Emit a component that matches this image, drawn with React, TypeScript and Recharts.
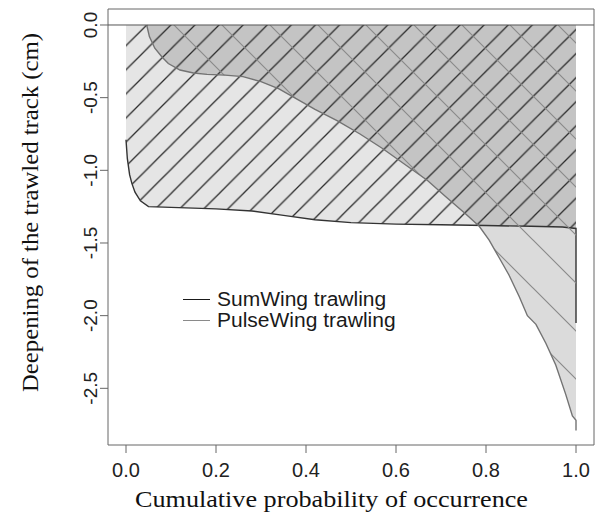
import {
  ComposedChart,
  Area,
  XAxis,
  YAxis,
  ReferenceLine,
  ReferenceArea,
  Legend,
} from "recharts";

// cumulative probability (x) and deepening in cm (y)
const SUM_PROB = [
  0, 0.003, 0.008, 0.013, 0.02, 0.032, 0.05, 0.1, 0.2, 0.28, 0.35, 0.42, 0.5,
  0.6, 0.7, 0.8, 0.9, 0.97, 1.0, 1.0,
];
const SUM_DEPTH = [
  -0.79, -0.92, -1.03, -1.09, -1.15, -1.21, -1.25, -1.255, -1.265, -1.28,
  -1.31, -1.34, -1.36, -1.37, -1.375, -1.38, -1.385, -1.39, -1.4, -2.05,
];

const PULSE_PROB = [
  0.046, 0.052, 0.064, 0.08, 0.094, 0.12, 0.15, 0.18, 0.22, 0.26, 0.3, 0.34,
  0.38, 0.42, 0.47, 0.52, 0.57, 0.62, 0.67, 0.71, 0.755, 0.785, 0.807, 0.829,
  0.851, 0.874, 0.892, 0.911, 0.933, 0.955, 0.977, 0.992, 1.0, 1.0,
];
const PULSE_DEPTH = [
  0, -0.08, -0.16, -0.22, -0.265, -0.31, -0.33, -0.34, -0.345, -0.355, -0.39,
  -0.44, -0.51, -0.58, -0.66, -0.75, -0.85, -0.96, -1.07, -1.18, -1.3, -1.385,
  -1.48, -1.6, -1.72, -1.87, -2.0, -2.06, -2.19, -2.34, -2.54, -2.69, -2.72,
  -2.79,
];

const X_TICKS = [0, 0.2, 0.4, 0.6, 0.8, 1];
const Y_TICKS = [0, -0.5, -1, -1.5, -2, -2.5];
const X_DOMAIN = [-0.04, 1.04];
const Y_DOMAIN = [-2.89, 0.11];

const LEGEND_ITEMS = [
  { label: "SumWing trawling", color: "#1a1a1a" },
  { label: "PulseWing trawling", color: "#8a8a8a" },
];

const sumData = SUM_PROB.map((x, i) => ({ x, y: SUM_DEPTH[i] }));
const pulseData = PULSE_PROB.map((x, i) => ({ x, y: PULSE_DEPTH[i] }));

const SANS = "'Liberation Sans', Arial, sans-serif";
const SERIF = "'Liberation Serif', 'Times New Roman', serif";

function XTick(props: any) {
  const { x, y, payload } = props;
  return (
    <text
      x={x}
      y={y + 22}
      textAnchor="middle"
      fontSize={20}
      fontFamily={SANS}
      fill="#222"
    >
      {Number(payload.value).toFixed(1)}
    </text>
  );
}

function YTick(props: any) {
  const { x, y, payload } = props;
  const tx = x - 1;
  return (
    <text
      x={tx}
      y={y}
      transform={`rotate(-90, ${tx}, ${y})`}
      textAnchor="middle"
      fontSize={19}
      fontFamily={SANS}
      fill="#222"
    >
      {Number(payload.value).toFixed(1)}
    </text>
  );
}

function LegendBox() {
  return (
    <div style={{ fontFamily: SANS, fontSize: 20, color: "#1a1a1a" }}>
      {LEGEND_ITEMS.map((item) => (
        <div
          key={item.label}
          style={{ display: "flex", alignItems: "center", height: 21 }}
        >
          <span
            style={{
              width: 27,
              height: 0,
              borderTop: `1.6px solid ${item.color}`,
              marginRight: 7,
            }}
          />
          <span
            style={{
              lineHeight: "21px",
              whiteSpace: "nowrap",
              display: "inline-block",
              transform: "scaleX(1.05)",
              transformOrigin: "left center",
            }}
          >
            {item.label}
          </span>
        </div>
      ))}
    </div>
  );
}

export default function App() {
  return (
    <div
      style={{
        position: "absolute",
        left: 0,
        top: 0,
        width: 595,
        height: 515,
        background: "#fff",
      }}
    >
      <ComposedChart
        width={595}
        height={515}
        margin={{ top: 9, right: 1, bottom: 0, left: 0 }}
      >
        <defs>
          {/* "/" hatching for SumWing */}
          <pattern
            id="hatchSum"
            patternUnits="userSpaceOnUse"
            x={3}
            y={0}
            width={24.1}
            height={24.1}
          >
            <path
              d="M-2,2 L2,-2 M0,24.1 L24.1,0 M22.1,26.1 L26.1,22.1"
              stroke="#2b2b2b"
              strokeWidth={1.3}
            />
          </pattern>
          {/* "\" hatching for PulseWing */}
          <pattern
            id="hatchPulse"
            patternUnits="userSpaceOnUse"
            x={5}
            y={0}
            width={48}
            height={48}
          >
            <path
              d="M-2,46 L2,50 M0,0 L48,48 M46,-2 L50,2"
              stroke="#8a8a8a"
              strokeWidth={1.2}
            />
          </pattern>
        </defs>

        <XAxis
          type="number"
          dataKey="x"
          domain={X_DOMAIN}
          ticks={X_TICKS}
          allowDataOverflow
          height={70}
          tickSize={8}
          axisLine={false}
          tickLine={{ stroke: "#666" }}
          tick={<XTick />}
          label={{
            content: () => (
              <text
                x={331.5}
                y={507}
                textAnchor="middle"
                fontSize={23}
                fontFamily={SERIF}
                textLength={393}
                lengthAdjust="spacingAndGlyphs"
                fill="#111"
              >
                Cumulative probability of occurrence
              </text>
            ),
          }}
        />
        <YAxis
          type="number"
          domain={Y_DOMAIN}
          ticks={Y_TICKS}
          allowDataOverflow
          width={108}
          tickSize={8}
          axisLine={false}
          tickLine={{ stroke: "#666" }}
          tick={<YTick />}
          label={{
            content: () => (
              <text
                x={30}
                y={212.5}
                transform="rotate(-90, 30, 212.5)"
                textAnchor="middle"
                dominantBaseline="central"
                fontSize={23}
                fontFamily={SERIF}
                textLength={359}
                lengthAdjust="spacingAndGlyphs"
                fill="#111"
              >
                Deepening of the trawled track (cm)
              </text>
            ),
          }}
        />

        <Area
          data={sumData}
          dataKey="y"
          type="linear"
          baseValue={0}
          fill="#000"
          fillOpacity={0.1}
          stroke="none"
          legendType="none"
          isAnimationActive={false}
        />
        <Area
          data={pulseData}
          dataKey="y"
          type="linear"
          baseValue={0}
          fill="#000"
          fillOpacity={0.14}
          stroke="none"
          legendType="none"
          isAnimationActive={false}
        />
        <Area
          data={sumData}
          dataKey="y"
          name="SumWing trawling"
          type="linear"
          baseValue={0}
          fill="url(#hatchSum)"
          fillOpacity={1}
          stroke="#333"
          strokeWidth={1.4}
          isAnimationActive={false}
        />
        <Area
          data={pulseData}
          dataKey="y"
          name="PulseWing trawling"
          type="linear"
          baseValue={0}
          fill="url(#hatchPulse)"
          fillOpacity={1}
          stroke="#737373"
          strokeWidth={1.4}
          isAnimationActive={false}
        />

        <ReferenceLine y={0} stroke="#555" strokeWidth={1} />
        <ReferenceArea
          x1={X_DOMAIN[0]}
          x2={X_DOMAIN[1]}
          y1={Y_DOMAIN[0]}
          y2={Y_DOMAIN[1]}
          fill="none"
          stroke="#666"
          strokeWidth={1}
        />

        <Legend
          layout="vertical"
          align="center"
          verticalAlign="middle"
          wrapperStyle={{
            position: "absolute",
            left: 183,
            top: 289,
            width: "auto",
            height: "auto",
          }}
          content={() => <LegendBox />}
        />
      </ComposedChart>
    </div>
  );
}
